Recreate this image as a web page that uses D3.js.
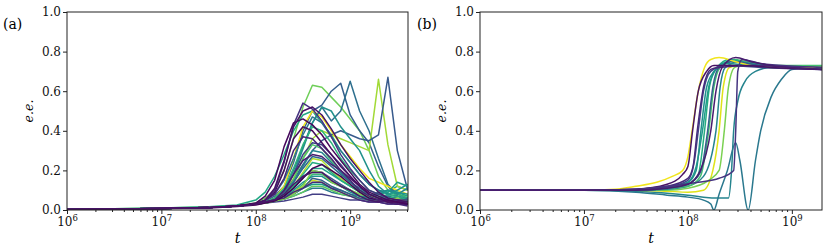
<!DOCTYPE html>
<html>
<head>
<meta charset="utf-8">
<script src="https://cdn.jsdelivr.net/npm/d3@7"></script>
<style>
body { margin: 0; background: #fff; }
svg { display: block; }
</style>
</head>
<body>
<svg id="chart" width="830" height="249"></svg>
<script>
// log10(t) sample positions shared by every run in panel (a)
const gridA = [6, 7, 7.5, 7.8, 8.0, 8.1, 8.2, 8.3, 8.4, 8.5, 8.6, 8.7, 8.8, 8.9, 9.0, 9.1, 9.2, 9.3, 9.4, 9.5, 9.61];

// viridis position of each run in (a)
const colorA = [0.78, 0.6, 0.3, 0.36, 0.86, 0.28, 0.98, 0.5, 0.4, 0.65, 0.2, 0.72, 0.45, 0.88, 0.33, 0.58,
  0.68, 0.25, 0.92, 0.5, 0.4, 0.75, 0.18, 0.62, 0.55, 0.3, 0.82, 0.12, 0.08, 0.0, 0.06, 0.1, 0.03, 0.15, 0.02, 0.05];

// e.e. values of each run in (a), one per gridA position
const seriesA = [
  [0.003, 0.01, 0.015, 0.022, 0.035, 0.06, 0.10, 0.20, 0.36, 0.52, 0.63, 0.62, 0.57, 0.52, 0.46, 0.40, 0.30, 0.17, 0.10, 0.08, 0.07],
  [0.003, 0.01, 0.016, 0.025, 0.05, 0.09, 0.17, 0.28, 0.40, 0.48, 0.50, 0.44, 0.38, 0.30, 0.24, 0.18, 0.13, 0.10, 0.09, 0.12, 0.10],
  [0.003, 0.008, 0.012, 0.02, 0.03, 0.045, 0.07, 0.12, 0.24, 0.40, 0.50, 0.53, 0.60, 0.64, 0.48, 0.40, 0.34, 0.22, 0.12, 0.07, 0.05],
  [0.003, 0.008, 0.012, 0.02, 0.03, 0.04, 0.06, 0.10, 0.20, 0.32, 0.44, 0.52, 0.45, 0.50, 0.65, 0.50, 0.40, 0.26, 0.13, 0.08, 0.06],
  [0.003, 0.008, 0.012, 0.02, 0.03, 0.04, 0.06, 0.09, 0.16, 0.26, 0.36, 0.40, 0.38, 0.36, 0.34, 0.32, 0.30, 0.66, 0.33, 0.12, 0.10],
  [0.003, 0.008, 0.012, 0.02, 0.03, 0.04, 0.06, 0.09, 0.15, 0.23, 0.30, 0.35, 0.38, 0.40, 0.38, 0.36, 0.35, 0.38, 0.67, 0.30, 0.10],
  [0.003, 0.008, 0.012, 0.02, 0.03, 0.04, 0.06, 0.12, 0.26, 0.42, 0.50, 0.47, 0.40, 0.33, 0.27, 0.21, 0.16, 0.14, 0.12, 0.10, 0.08],
  [0.003, 0.008, 0.012, 0.02, 0.03, 0.04, 0.06, 0.10, 0.18, 0.31, 0.44, 0.52, 0.50, 0.42, 0.36, 0.30, 0.20, 0.12, 0.08, 0.10, 0.13],
  [0.003, 0.008, 0.012, 0.02, 0.03, 0.05, 0.08, 0.15, 0.26, 0.38, 0.47, 0.44, 0.37, 0.30, 0.24, 0.18, 0.13, 0.10, 0.08, 0.07, 0.06],
  [0.003, 0.008, 0.012, 0.02, 0.03, 0.04, 0.06, 0.11, 0.21, 0.33, 0.42, 0.40, 0.34, 0.26, 0.20, 0.15, 0.10, 0.08, 0.07, 0.08, 0.06],
  [0.003, 0.008, 0.012, 0.02, 0.03, 0.04, 0.05, 0.09, 0.18, 0.28, 0.34, 0.33, 0.28, 0.23, 0.17, 0.12, 0.08, 0.06, 0.05, 0.04, 0.04],
  [0.003, 0.008, 0.012, 0.02, 0.03, 0.04, 0.05, 0.08, 0.15, 0.26, 0.33, 0.31, 0.25, 0.20, 0.14, 0.10, 0.08, 0.07, 0.06, 0.06, 0.05],
  [0.003, 0.008, 0.012, 0.02, 0.03, 0.04, 0.05, 0.08, 0.14, 0.22, 0.30, 0.29, 0.24, 0.19, 0.14, 0.10, 0.07, 0.09, 0.10, 0.08, 0.11],
  [0.003, 0.008, 0.012, 0.02, 0.03, 0.04, 0.05, 0.07, 0.12, 0.19, 0.26, 0.25, 0.20, 0.16, 0.12, 0.09, 0.07, 0.06, 0.05, 0.05, 0.04],
  [0.003, 0.008, 0.012, 0.02, 0.03, 0.04, 0.05, 0.08, 0.14, 0.21, 0.27, 0.26, 0.22, 0.18, 0.14, 0.11, 0.08, 0.06, 0.07, 0.05, 0.06],
  [0.003, 0.008, 0.012, 0.02, 0.03, 0.04, 0.05, 0.07, 0.11, 0.16, 0.21, 0.21, 0.18, 0.15, 0.12, 0.09, 0.07, 0.06, 0.08, 0.09, 0.07],
  [0.003, 0.008, 0.012, 0.02, 0.03, 0.035, 0.045, 0.06, 0.09, 0.13, 0.18, 0.18, 0.15, 0.12, 0.10, 0.08, 0.06, 0.05, 0.06, 0.05, 0.04],
  [0.003, 0.008, 0.012, 0.02, 0.03, 0.04, 0.05, 0.07, 0.11, 0.17, 0.20, 0.19, 0.16, 0.13, 0.10, 0.07, 0.06, 0.05, 0.04, 0.05, 0.03],
  [0.003, 0.008, 0.012, 0.02, 0.03, 0.035, 0.045, 0.06, 0.09, 0.12, 0.15, 0.14, 0.11, 0.09, 0.07, 0.06, 0.05, 0.05, 0.04, 0.04, 0.03],
  [0.003, 0.008, 0.012, 0.02, 0.03, 0.04, 0.05, 0.06, 0.10, 0.14, 0.17, 0.17, 0.14, 0.12, 0.09, 0.07, 0.06, 0.08, 0.10, 0.09, 0.08],
  [0.003, 0.008, 0.012, 0.02, 0.03, 0.035, 0.045, 0.055, 0.07, 0.09, 0.11, 0.11, 0.09, 0.08, 0.07, 0.06, 0.05, 0.06, 0.07, 0.06, 0.05],
  [0.003, 0.008, 0.012, 0.02, 0.03, 0.035, 0.045, 0.055, 0.07, 0.09, 0.12, 0.12, 0.10, 0.08, 0.07, 0.06, 0.05, 0.04, 0.05, 0.04, 0.03],
  [0.003, 0.008, 0.012, 0.02, 0.03, 0.035, 0.04, 0.045, 0.055, 0.065, 0.08, 0.08, 0.07, 0.06, 0.05, 0.05, 0.04, 0.04, 0.03, 0.03, 0.03],
  [0.003, 0.008, 0.012, 0.02, 0.03, 0.04, 0.05, 0.08, 0.12, 0.18, 0.24, 0.23, 0.19, 0.15, 0.12, 0.10, 0.08, 0.07, 0.06, 0.07, 0.05],
  [0.003, 0.008, 0.012, 0.02, 0.03, 0.035, 0.045, 0.06, 0.08, 0.11, 0.13, 0.13, 0.11, 0.10, 0.08, 0.07, 0.06, 0.08, 0.09, 0.14, 0.12],
  [0.003, 0.008, 0.012, 0.02, 0.03, 0.035, 0.045, 0.055, 0.08, 0.11, 0.16, 0.15, 0.12, 0.10, 0.08, 0.06, 0.05, 0.05, 0.06, 0.05, 0.04],
  [0.003, 0.008, 0.012, 0.02, 0.03, 0.035, 0.045, 0.055, 0.08, 0.12, 0.20, 0.19, 0.14, 0.12, 0.10, 0.08, 0.07, 0.06, 0.05, 0.06, 0.04],
  [0.003, 0.008, 0.012, 0.02, 0.03, 0.04, 0.05, 0.06, 0.09, 0.11, 0.14, 0.14, 0.11, 0.09, 0.07, 0.05, 0.04, 0.04, 0.03, 0.03, 0.02],
  [0.003, 0.008, 0.012, 0.02, 0.03, 0.04, 0.05, 0.10, 0.18, 0.25, 0.28, 0.27, 0.23, 0.20, 0.16, 0.12, 0.08, 0.06, 0.05, 0.04, 0.04],
  [0.003, 0.007, 0.01, 0.018, 0.025, 0.035, 0.045, 0.07, 0.11, 0.16, 0.21, 0.23, 0.20, 0.17, 0.13, 0.09, 0.06, 0.05, 0.04, 0.03, 0.03],
  [0.003, 0.008, 0.012, 0.02, 0.03, 0.04, 0.05, 0.08, 0.13, 0.17, 0.19, 0.19, 0.15, 0.12, 0.10, 0.07, 0.05, 0.04, 0.05, 0.04, 0.03],
  [0.003, 0.008, 0.012, 0.02, 0.03, 0.05, 0.08, 0.16, 0.30, 0.37, 0.36, 0.31, 0.26, 0.20, 0.15, 0.10, 0.07, 0.05, 0.04, 0.03, 0.03],
  [0.003, 0.008, 0.012, 0.02, 0.03, 0.05, 0.09, 0.20, 0.36, 0.42, 0.40, 0.34, 0.28, 0.22, 0.17, 0.12, 0.08, 0.06, 0.04, 0.04, 0.03],
  [0.003, 0.008, 0.012, 0.02, 0.03, 0.05, 0.10, 0.24, 0.43, 0.54, 0.51, 0.45, 0.37, 0.28, 0.21, 0.15, 0.10, 0.08, 0.06, 0.05, 0.05],
  [0.003, 0.008, 0.012, 0.02, 0.035, 0.07, 0.15, 0.32, 0.44, 0.46, 0.43, 0.38, 0.31, 0.25, 0.19, 0.13, 0.09, 0.07, 0.05, 0.04, 0.03],
  [0.003, 0.008, 0.012, 0.02, 0.03, 0.05, 0.11, 0.25, 0.42, 0.50, 0.52, 0.48, 0.41, 0.33, 0.26, 0.20, 0.14, 0.09, 0.06, 0.05, 0.04]
];

// viridis position of each run in (b)
const colorB = [0.45, 0.4, 0.95, 0.8, 0.45, 0.7, 0.62, 0.55, 0.3, 0.5, 0.98, 0.22, 0.12, 0.05, 0.15, 0.08];

// runs in (b): [log10(t), e.e.] pairs
const seriesB = [
  [[6, 0.1], [7, 0.1], [7.5, 0.095], [7.8, 0.085], [8.0, 0.075], [8.15, 0.065], [8.27, 0.06], [8.39, 0.06], [8.42, 0.2], [8.44, 0.4], [8.48, 0.55], [8.55, 0.65], [8.65, 0.7], [8.8, 0.72], [9.0, 0.72], [9.29, 0.72]],
  [[6, 0.1], [7, 0.1], [7.5, 0.09], [7.8, 0.075], [8.0, 0.065], [8.15, 0.05], [8.22, 0.03], [8.25, 0.0], [8.3, 0.08], [8.38, 0.2], [8.46, 0.34], [8.5, 0.25], [8.58, 0.0], [8.65, 0.25], [8.7, 0.4], [8.8, 0.57], [8.9, 0.66], [9.0, 0.71], [9.29, 0.72]],
  [[6, 0.1], [7, 0.1], [7.5, 0.1], [7.8, 0.095], [8.0, 0.09], [8.15, 0.1], [8.24, 0.2], [8.3, 0.4], [8.34, 0.62], [8.4, 0.72], [8.6, 0.74], [9.0, 0.72], [9.29, 0.72]],
  [[6, 0.1], [7, 0.1], [7.5, 0.1], [7.8, 0.1], [8.0, 0.11], [8.2, 0.15], [8.3, 0.2], [8.35, 0.4], [8.39, 0.62], [8.45, 0.72], [8.6, 0.74], [9.0, 0.72], [9.29, 0.72]],
  [[6, 0.1], [7, 0.1], [7.5, 0.1], [7.8, 0.105], [8.0, 0.12], [8.15, 0.17], [8.27, 0.4], [8.31, 0.62], [8.36, 0.72], [8.5, 0.75], [8.8, 0.73], [9.29, 0.72]],
  [[6, 0.1], [7, 0.1], [7.5, 0.1], [7.8, 0.11], [8.0, 0.12], [8.12, 0.17], [8.2, 0.4], [8.25, 0.62], [8.31, 0.72], [8.45, 0.76], [8.7, 0.73], [9.29, 0.73]],
  [[6, 0.1], [7, 0.1], [7.5, 0.1], [7.8, 0.11], [8.0, 0.13], [8.1, 0.18], [8.16, 0.4], [8.21, 0.63], [8.28, 0.72], [8.4, 0.76], [8.6, 0.74], [8.9, 0.72], [9.29, 0.72]],
  [[6, 0.1], [7, 0.1], [7.5, 0.1], [7.8, 0.11], [8.0, 0.14], [8.08, 0.22], [8.14, 0.4], [8.2, 0.62], [8.27, 0.71], [8.4, 0.75], [8.7, 0.73], [9.29, 0.72]],
  [[6, 0.1], [7, 0.1], [7.5, 0.1], [7.8, 0.11], [8.0, 0.13], [8.12, 0.19], [8.19, 0.4], [8.24, 0.62], [8.3, 0.72], [8.45, 0.75], [8.7, 0.73], [9.29, 0.72]],
  [[6, 0.1], [7, 0.1], [7.5, 0.1], [7.8, 0.115], [8.0, 0.14], [8.08, 0.2], [8.125, 0.4], [8.18, 0.62], [8.25, 0.7], [8.35, 0.74], [8.6, 0.73], [9.29, 0.72]],
  [[6, 0.1], [7, 0.1], [7.3, 0.105], [7.5, 0.12], [7.7, 0.14], [7.85, 0.17], [7.95, 0.2], [8.0, 0.27], [8.04, 0.4], [8.1, 0.6], [8.16, 0.72], [8.22, 0.76], [8.3, 0.77], [8.45, 0.75], [8.6, 0.73], [8.8, 0.72], [9.29, 0.72]],
  [[6, 0.1], [7, 0.1], [7.5, 0.1], [7.8, 0.115], [8.0, 0.15], [8.06, 0.24], [8.1, 0.4], [8.15, 0.6], [8.22, 0.7], [8.35, 0.73], [8.7, 0.72], [9.29, 0.71]],
  [[6, 0.1], [7, 0.1], [7.5, 0.105], [7.8, 0.12], [8.0, 0.16], [8.05, 0.22], [8.09, 0.4], [8.15, 0.62], [8.22, 0.71], [8.3, 0.72], [8.6, 0.73], [9.29, 0.71]],
  [[6, 0.1], [7, 0.1], [7.5, 0.105], [7.8, 0.13], [7.95, 0.18], [8.0, 0.22], [8.045, 0.4], [8.1, 0.6], [8.18, 0.7], [8.25, 0.73], [8.5, 0.73], [8.8, 0.72], [9.29, 0.71]],
  [[6, 0.1], [7, 0.1], [7.5, 0.105], [7.8, 0.12], [8.1, 0.14], [8.3, 0.16], [8.44, 0.2], [8.46, 0.4], [8.48, 0.7], [8.52, 0.76], [8.7, 0.74], [9.29, 0.72]],
  [[6, 0.1], [7, 0.1], [7.5, 0.1], [7.8, 0.11], [8.0, 0.13], [8.12, 0.2], [8.22, 0.4], [8.27, 0.6], [8.33, 0.72], [8.46, 0.77], [8.6, 0.75], [8.8, 0.73], [9.29, 0.71]]
];

const yTicks = [0, 0.2, 0.4, 0.6, 0.8, 1.0];
const xMajor = [1e6, 1e7, 1e8, 1e9];
const panelLabels = ["(a)", "(b)"];

const FONT = "DejaVu Serif";
const svg = d3.select("#chart");

function drawPanel(p) {
  const x = d3.scaleLog().domain(p.xDomain).range([p.left, p.right]);
  const y = d3.scaleLinear().domain([0, 1]).range([p.bottom, p.top]);
  const g = svg.append("g");

  const clipId = "clip" + p.id;
  g.append("clipPath").attr("id", clipId).append("rect")
    .attr("x", p.left).attr("y", p.top - 1)
    .attr("width", p.right - p.left).attr("height", p.bottom - p.top + 1);

  const line = d3.line()
    .x(d => x(Math.pow(10, d[0])))
    .y(d => y(d[1]))
    .curve(p.curve);

  g.append("g").attr("clip-path", `url(#${clipId})`)
    .selectAll("path")
    .data(p.series)
    .join("path")
    .attr("d", line)
    .attr("fill", "none")
    .attr("stroke", (d, i) => d3.interpolateViridis(p.colors[i]))
    .attr("stroke-width", 1.5)
    .attr("stroke-linejoin", "round");

  // y axis
  const yAxis = g.append("g").attr("transform", `translate(${p.left},0)`)
    .call(d3.axisLeft(y).tickValues(yTicks).tickFormat(d3.format(".1f")).tickSize(4).tickPadding(2));
  yAxis.attr("font-family", FONT).attr("font-size", 12);
  yAxis.select(".domain").remove();
  yAxis.selectAll("line").attr("stroke", "#222");
  yAxis.selectAll("text").attr("fill", "#111");

  // x minor ticks
  const minor = x.ticks().filter(t => !xMajor.includes(t));
  const xMin = g.append("g").attr("transform", `translate(0,${p.bottom})`)
    .call(d3.axisBottom(x).tickValues(minor).tickFormat("").tickSize(2));
  xMin.select(".domain").remove();
  xMin.selectAll("line").attr("stroke", "#222");

  // x major ticks with 10^k labels
  const xMaj = g.append("g").attr("transform", `translate(0,${p.bottom})`)
    .call(d3.axisBottom(x).tickValues(xMajor).tickFormat("").tickSize(4));
  xMaj.attr("font-family", FONT).attr("font-size", 12);
  xMaj.select(".domain").remove();
  xMaj.selectAll("line").attr("stroke", "#222");
  xMaj.selectAll(".tick").each(function (d) {
    const tx = d3.select(this).append("text")
      .attr("y", 16).attr("text-anchor", "middle").attr("fill", "#111");
    tx.append("tspan").text("10");
    tx.append("tspan").attr("dy", -5).attr("font-size", 8.5)
      .text(String(Math.round(Math.log10(d))));
  });

  // frame
  g.append("rect")
    .attr("x", p.left).attr("y", p.top)
    .attr("width", p.right - p.left).attr("height", p.bottom - p.top)
    .attr("fill", "none").attr("stroke", "#222").attr("stroke-width", 1);

  // labels
  g.append("text").attr("x", (p.left + p.right) / 2).attr("y", 243)
    .attr("text-anchor", "middle").attr("font-style", "italic").attr("font-size", 14)
    .attr("font-family", FONT).text("t");
  g.append("text")
    .attr("transform", `translate(${p.left - 34},${(p.top + p.bottom) / 2}) rotate(-90)`)
    .attr("text-anchor", "middle").attr("font-style", "italic").attr("font-size", 12.5)
    .attr("font-family", FONT).text("e.e.");
  g.append("text").attr("x", p.labelX).attr("y", 29)
    .attr("font-size", 14).attr("font-family", FONT).text(p.label);
}

drawPanel({
  id: "a", left: 67, right: 408, top: 12, bottom: 210, xDomain: [1e6, 4.1e9],
  series: seriesA.map(vals => vals.map((v, i) => [gridA[i], v])),
  colors: colorA, curve: d3.curveLinear, label: panelLabels[0], labelX: 3
});
drawPanel({
  id: "b", left: 480, right: 822, top: 12, bottom: 210, xDomain: [1e6, 1.95e9],
  series: seriesB, colors: colorB, curve: d3.curveMonotoneX, label: panelLabels[1], labelX: 417
});
</script>
</body>
</html>
